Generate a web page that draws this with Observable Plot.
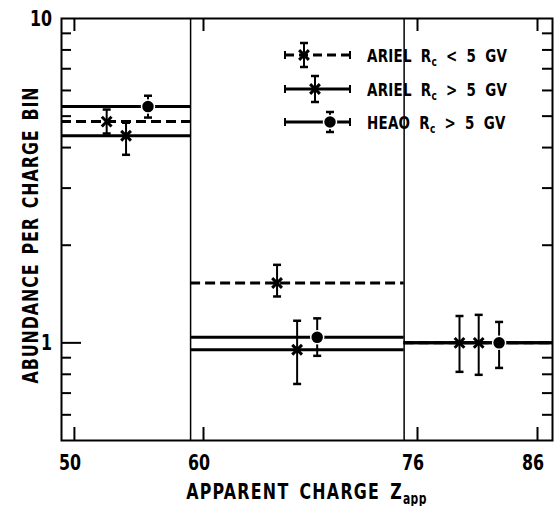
<!DOCTYPE html>
<html><head><meta charset="utf-8">
<script src="https://cdn.jsdelivr.net/npm/d3@7"></script>
<script src="https://cdn.jsdelivr.net/npm/@observablehq/plot@0.6"></script>
<style>
body{margin:0;background:#fff}
#chart{width:557px;height:506px}
</style>
</head><body><div id="chart"></div>
<script>
// ---- data ----
const binStart = [49, 59, 75];
const binEnd   = [59, 75, 87.25];
const binEdges = [59, 75];

const arielLowX   = [52.5, 65.5, 79.5];
const arielLowY   = [4.81, 1.53, 1.0];
const arielLowLo  = [4.42, 1.39, 0.814];
const arielLowHi  = [5.24, 1.74, 1.21];

const arielHighX  = [54.0, 67.0, 81.1];
const arielHighY  = [4.35, 0.952, 1.0];
const arielHighLo = [3.80, 0.747, 0.797];
const arielHighHi = [4.77, 1.17, 1.22];

const heaoX  = [55.7, 68.5, 82.8];
const heaoY  = [5.35, 1.04, 1.0];
const heaoLo = [4.95, 0.912, 0.837];
const heaoHi = [5.78, 1.19, 1.16];

const xTickValues = [50, 60, 76, 86];
const xTickLabels = ["50", "60", "76", "86"];
const yTickValues = [1, 10];
const yTickLabels = ["1", "10"];
const yMinorTicks = [0.6, 0.7, 0.8, 0.9, 2, 3, 4, 5, 6, 7, 8, 9];

const seriesNames = ["ARIEL", "ARIEL", "HEAO"];
const seriesCond  = ["< 5 GV", "> 5 GV", "> 5 GV"];
const xTitle = "APPARENT CHARGE Z";
const xTitleSub = "app";
const yTitle = "ABUNDANCE PER CHARGE BIN";

// ---- build tables ----
function table(key, X, Y, Lo, Hi) {
  return Y.map((v, i) => ({key, x: X[i], y: v, lo: Lo[i], hi: Hi[i], x1: binStart[i], x2: binEnd[i]}));
}
const low  = table("low", arielLowX, arielLowY, arielLowLo, arielLowHi);
const high = table("high", arielHighX, arielHighY, arielHighLo, arielHighHi);
const heao = table("heao", heaoX, heaoY, heaoLo, heaoHi);
const all = [...low, ...high, ...heao];

const FONT = "'DejaVu Sans Condensed','DejaVu Sans',sans-serif";
const W = 557, H = 506, ML = 61, MR = 5, MT = 18, MB = 66;
const plotW = W - ML - MR, plotH = H - MT - MB;

const capSymbol = {draw(ctx, size) { const r = Math.sqrt(size / Math.PI); ctx.moveTo(-r, 0); ctx.lineTo(r, 0); }};

const plot = Plot.plot({
  width: W, height: H,
  marginLeft: ML, marginRight: MR, marginTop: MT, marginBottom: MB,
  style: {fontFamily: FONT, fontWeight: "bold", color: "black", background: "white"},
  x: {type: "linear", domain: [49, 60, 76, 87.25], range: [ML, 203, 417, W - MR], axis: null},
  y: {type: "log", domain: [0.5, 10], axis: null},
  marks: [
    Plot.frame({stroke: "black", strokeWidth: 2}),
    // inward ticks
    Plot.tickY(yMinorTicks, {y: d => d, insetRight: plotW - 10, stroke: "black", strokeWidth: 2}),
    Plot.tickY(yMinorTicks, {y: d => d, insetLeft: plotW - 10, stroke: "black", strokeWidth: 2}),
    Plot.tickY([1], {y: d => d, insetRight: plotW - 20, stroke: "black", strokeWidth: 2}),
    Plot.tickX(xTickValues, {x: d => d, insetTop: plotH - 13, stroke: "black", strokeWidth: 2}),
    Plot.tickX(xTickValues, {x: d => d, insetBottom: plotH - 13, stroke: "black", strokeWidth: 2}),
    // bin dividers
    Plot.ruleX(binEdges, {x: d => d, stroke: "black", strokeWidth: 1.5}),
    // bin levels
    Plot.ruleY(low,  {y: "y", x1: "x1", x2: "x2", stroke: "black", strokeWidth: 3, strokeDasharray: "10,5"}),
    Plot.ruleY(high, {y: "y", x1: "x1", x2: "x2", stroke: "black", strokeWidth: 3}),
    Plot.ruleY(heao, {y: "y", x1: "x1", x2: "x2", stroke: "black", strokeWidth: 3}),
    // error bars
    Plot.ruleX(all, {x: "x", y1: "lo", y2: "hi", stroke: "black", strokeWidth: 2}),
    Plot.dot(all, {x: "x", y: "lo", symbol: capSymbol, r: 4, stroke: "black", strokeWidth: 2.5}),
    Plot.dot(all, {x: "x", y: "hi", symbol: capSymbol, r: 4, stroke: "black", strokeWidth: 2.5}),
    // markers
    Plot.dot([...low, ...high], {x: "x", y: "y", symbol: "times", r: 4.5, stroke: "black", strokeWidth: 3}),
    Plot.dot(heao, {x: "x", y: "y", r: 6.5, fill: "black", stroke: "white", strokeWidth: 1.5})
  ]
});

document.getElementById("chart").appendChild(plot);

const sx = plot.scale("x"), sy = plot.scale("y");
const svg = d3.select(plot);
const SQ = 0.8; // horizontal compression of the lettering

function label(g, x, y, anchor, size, txt) {
  return g.append("text")
    .attr("transform", `translate(${x},${y}) scale(${SQ},1)`)
    .attr("text-anchor", anchor)
    .style("font-family", FONT).style("font-weight", "bold").style("font-size", size + "px")
    .attr("fill", "black").attr("stroke", "none")
    .text(txt);
}

// tick labels through the plot's scales
const tl = svg.append("g");
xTickValues.forEach((v, i) => label(tl, sx.apply(v) - 4, H - MB + 30, "middle", 22, xTickLabels[i]));
yTickValues.forEach((v, i) => label(tl, ML - 9, sy.apply(v) + 8, "end", 22, yTickLabels[i]));

// axis titles
svg.append("text")
  .attr("transform", `translate(38, ${(MT + H - MB) / 2 + 6}) rotate(-90) scale(${SQ},1)`)
  .attr("text-anchor", "middle")
  .style("font-family", FONT).style("font-weight", "bold")
  .style("font-size", "22px").style("letter-spacing", "1.2px").style("word-spacing", "3px")
  .text(yTitle);

const xt = svg.append("text")
  .attr("transform", `translate(${(ML + W - MR) / 2}, 499) scale(${SQ},1)`)
  .attr("text-anchor", "middle")
  .style("font-family", FONT).style("font-weight", "bold")
  .style("font-size", "22px").style("letter-spacing", "1.6px").style("word-spacing", "4px");
xt.append("tspan").text(xTitle);
xt.append("tspan").attr("dy", 5).style("font-size", "15px").style("letter-spacing", "0.5px").text(xTitleSub);

// legend
const lg = svg.append("g").attr("fill", "black").attr("stroke", "black");
const rowY = [55, 89, 122];
const markX = [304, 315, 330];
const errH = [12, 13, 10];
const symL = 285, symR = 350, textX = 367;
seriesNames.forEach((name, i) => {
  const y = rowY[i];
  lg.append("line").attr("x1", symL).attr("x2", symR).attr("y1", y).attr("y2", y)
    .attr("stroke-width", 3).attr("stroke-dasharray", i === 0 ? "9,5" : null);
  [symL, symR].forEach(x => lg.append("line").attr("x1", x).attr("x2", x).attr("y1", y - 4).attr("y2", y + 4).attr("stroke-width", 2));
  const mx = markX[i];
  lg.append("line").attr("x1", mx).attr("x2", mx).attr("y1", y - errH[i]).attr("y2", y + errH[i]).attr("stroke-width", 2);
  [y - errH[i], y + errH[i]].forEach(yy => lg.append("line").attr("x1", mx - 4).attr("x2", mx + 4).attr("y1", yy).attr("y2", yy).attr("stroke-width", 2.5));
  if (i < 2) {
    lg.append("path").attr("d", d3.symbol(d3.symbolTimes, Math.PI * 4.5 * 4.5)()).attr("transform", `translate(${mx},${y})`)
      .attr("fill", "none").attr("stroke-width", 3);
  } else {
    lg.append("circle").attr("cx", mx).attr("cy", y).attr("r", 6.5).attr("stroke", "white").attr("stroke-width", 1.5);
  }
  const t = lg.append("text")
    .attr("transform", `translate(${textX},${y + 6.5}) scale(0.83,1)`)
    .attr("text-anchor", "start").attr("stroke", "none")
    .style("font-family", FONT).style("font-weight", "bold").style("font-size", "18px")
    .style("letter-spacing", "0.3px").style("word-spacing", "5px");
  t.append("tspan").text(name + " R");
  t.append("tspan").attr("dy", 4).style("font-size", "12px").text("c");
  t.append("tspan").attr("dy", -4).text(" " + seriesCond[i]);
});
</script>
</body></html>
